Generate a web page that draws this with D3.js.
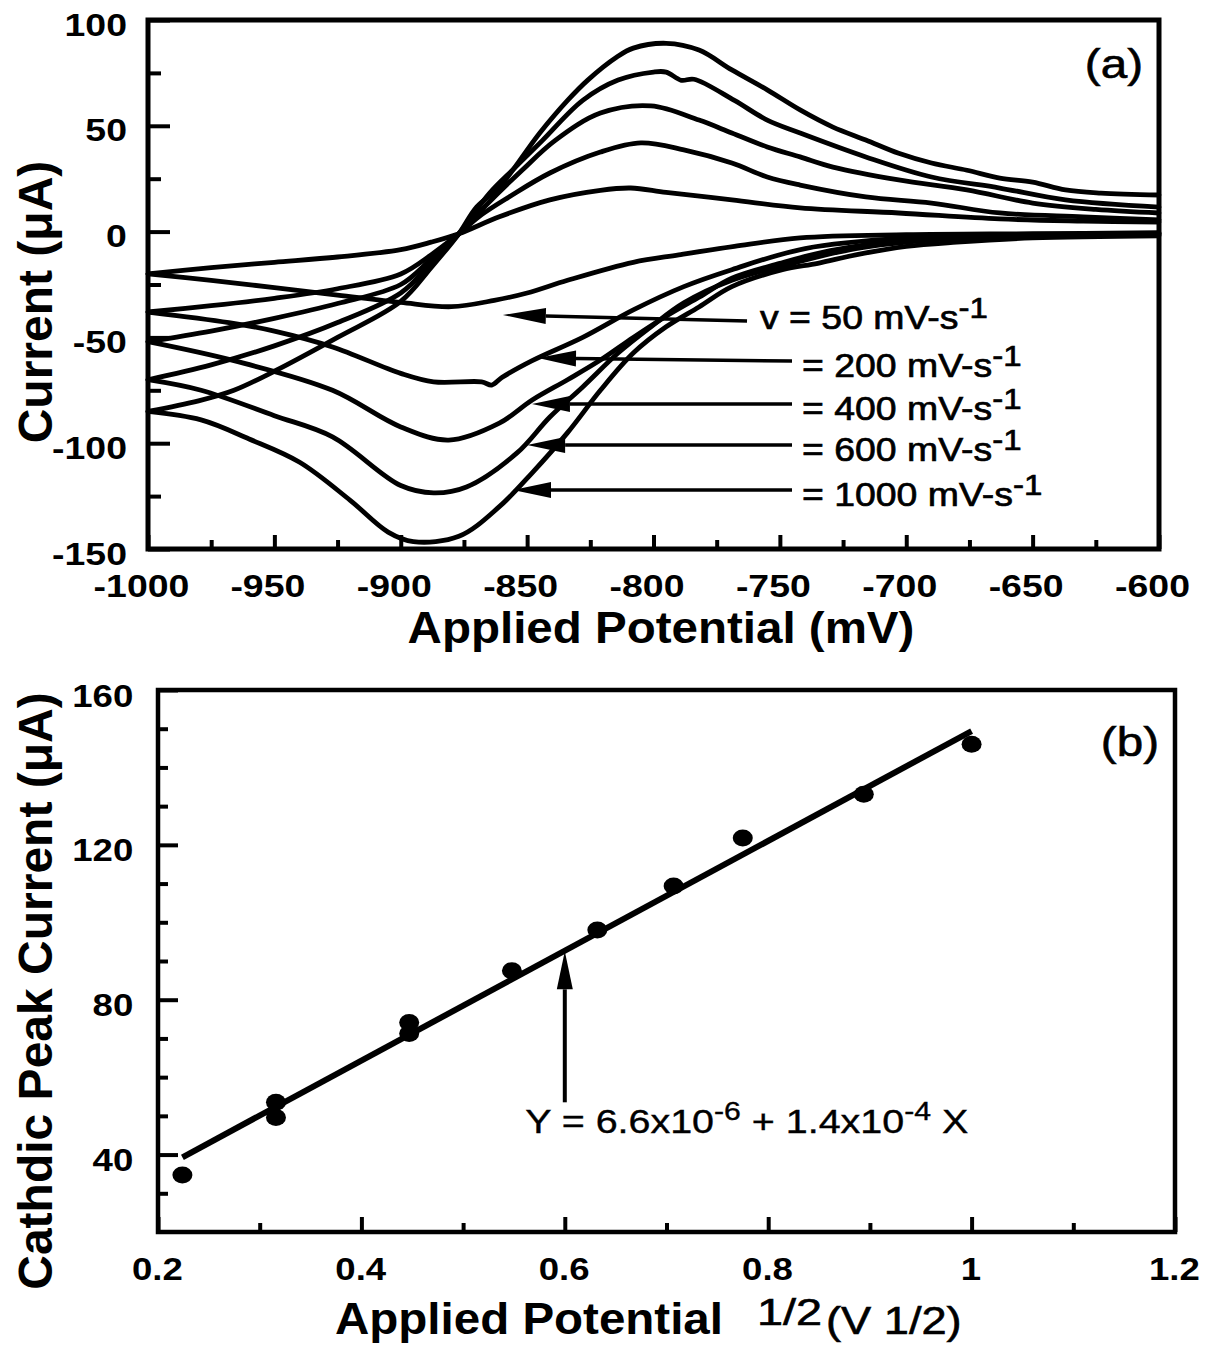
<!DOCTYPE html>
<html>
<head>
<meta charset="utf-8">
<script src="https://cdn.jsdelivr.net/npm/d3@7"></script>
<style>
  body { margin: 0; background: #fff; }
  svg { display: block; }
  text { font-family: "Liberation Sans", Arial, Helvetica, sans-serif; fill: #000; white-space: pre; }
</style>
</head>
<body>
<svg id="fig"></svg>
<script>
// (a) cyclic voltammograms, [potential mV, current uA]
// upper (anodic) branch left->right, lower (cathodic) branch right->left
const up50 = [[-1000,-20],[-975,-17],[-950,-14.5],[-925,-12],[-900,-8.5],[-888,-5],[-877,-1],[-861,7],[-841,15],[-821,19.5],[-809,20.6],[-795,18.5],[-769,15],[-742,11.2],[-703,8.8],[-663,6],[-630,5],[-600,4.5]];
const down50 = [[-600,-0.5],[-650,-1],[-700,-1.5],[-742,-3],[-768,-7],[-790,-11],[-808,-14.5],[-834,-23],[-850,-29],[-863,-32.5],[-880,-35.5],[-900,-33.5],[-925,-30],[-950,-26.5],[-975,-23],[-1000,-20]];

const up200 = [[-1000,-38],[-975,-35],[-950,-31.5],[-925,-27],[-900,-20],[-888,-11],[-877,-1],[-868,8],[-857,16.5],[-841,27.7],[-821,37.6],[-805,41.9],[-788,38.6],[-769,32.4],[-755,25.8],[-742,22],[-716,16.4],[-690,13.5],[-663,8.8],[-630,7],[-600,5.5]];
const down200 = [[-600,-1],[-650,-1.5],[-700,-3],[-740,-8],[-769,-18],[-788,-26],[-808,-37],[-828,-50],[-848,-61],[-860,-69],[-864,-72.5],[-868,-71],[-887,-71],[-900,-67],[-927,-54.5],[-950,-47],[-968,-43],[-1000,-38]];

const up400 = [[-1000,-52],[-975,-47],[-950,-41],[-925,-34],[-900,-25],[-888,-13],[-877,-1],[-865,14],[-852,29],[-839,43],[-821,56],[-801,59.4],[-782,52.7],[-769,46.6],[-755,40],[-742,35.3],[-729,30.5],[-703,24.4],[-676,19.7],[-650,13.5],[-625,10.5],[-600,8.8]];
const down400 = [[-600,-1],[-650,-2],[-700,-4],[-730,-9],[-750,-15],[-769,-22],[-782,-31],[-795,-40],[-808,-50],[-821,-60.7],[-834,-70],[-848,-79.6],[-861,-90.5],[-881,-98.5],[-900,-92.3],[-927,-75],[-966,-61],[-1000,-52]];

const up600 = [[-1000,-70],[-975,-63],[-950,-54],[-925,-43],[-900,-29],[-888,-15],[-877,-1],[-865,18],[-855,30],[-844,43],[-828,62],[-814,71.6],[-800,75.4],[-795,75.4],[-789,71.5],[-784,72],[-768,62],[-755,52.7],[-742,46.6],[-716,35.3],[-690,25.8],[-663,20.6],[-637,15],[-600,11.6]];
const down600 = [[-600,-1.5],[-650,-2.5],[-690,-4],[-720,-8],[-745,-15],[-769,-23],[-788,-33.7],[-801,-45],[-814,-57.4],[-828,-73.4],[-841,-87.6],[-854,-104.6],[-874,-120.7],[-887,-123.5],[-900,-120],[-927,-97],[-950,-87],[-979,-75],[-1000,-70]];

const up1000 = [[-1000,-85],[-980,-80],[-966,-75],[-950,-66],[-925,-50],[-900,-33],[-888,-17],[-877,-1],[-870,11.6],[-861,21],[-845,46.6],[-834,62],[-826,71.6],[-814.5,82.5],[-808,86.7],[-795,89],[-782,85.8],[-769,76.4],[-755,67],[-742,57.5],[-729,49.4],[-716,43.3],[-703,37],[-690,32.4],[-676,29],[-663,25.3],[-650,23.4],[-637,19.7],[-623,18.2],[-600,17.3]];
const down1000 = [[-600,-2],[-650,-3],[-680,-5],[-700,-7],[-720,-11],[-735,-15],[-749,-18],[-769,-26],[-782,-35.6],[-795,-45],[-808,-57.4],[-821,-75],[-834,-95],[-848,-114],[-861,-130],[-877,-144],[-895,-146.5],[-905,-142],[-920,-127],[-940,-109],[-960,-98],[-979,-89],[-1000,-85]];

// labels + arrows of (a)
const rateLabels = ['v = 50 mV-s', '= 200 mV-s', '= 400 mV-s', '= 600 mV-s', '= 1000 mV-s'];
const arrowTip = [[-859.6,-39.4],[-845.7,-59.7],[-848.1,-81.5],[-850,-100.9],[-855.6,-122.1]];
const arrowTail = [[-763,-42.2],[-745.2,-61.2],[-745.2,-81.5],[-745.2,-100.9],[-745.2,-122.1]];

// ticks of (a)
const xaMajor = [-1000,-950,-900,-850,-800,-750,-700,-650,-600];
const xaMinor = [-975,-925,-875,-825,-775,-725,-675,-625];
const yaMajor = [-150,-100,-50,0,50,100];
const yaMinor = [-125,-75,-25,25,75];

// (b) cathodic peak current vs sqrt(scan rate)
const sqrtRate = [0.224, 0.316, 0.316, 0.447, 0.447, 0.548, 0.632, 0.707, 0.775, 0.894, 1.0];
const peakCurrent = [34.7, 53.5, 49.6, 74.1, 71.3, 87.5, 98, 109.4, 121.8, 133.1, 146];
const fitLine = [[0.224, 39.3], [1.0, 149.4]];

// ticks of (b)
const xbMajor = [0.2, 0.4, 0.6, 0.8, 1, 1.2];
const xbMinor = [0.3, 0.5, 0.7, 0.9, 1.1];
const ybMajor = [40, 80, 120, 160];
const ybMinor = [30, 50, 60, 70, 90, 100, 110, 130, 140, 150];

const W = 1206, H = 1345;
const svg = d3.select('#fig').attr('width', W).attr('height', H);

// frames
const pa = {left: 148, top: 20, right: 1159, bottom: 549};
const pb = {left: 158, top: 690, right: 1175, bottom: 1232};

const xa = d3.scaleLinear().domain([-1000, -600]).range([pa.left, pa.right]);
const ya = d3.scaleLinear().domain([-150, 100]).range([pa.bottom, pa.top]);
const xb = d3.scaleLinear().domain([0.2, 1.2]).range([pb.left, pb.right]);
const yb = d3.scaleLinear().domain([20, 160]).range([pb.bottom, pb.top]);

function ticks(g, axis, len, w) {
    g.call(axis.tickSizeInner(-len).tickSizeOuter(0));
    g.select('.domain').remove();
    g.attr('font-family', null).attr('font-size', null);
    g.selectAll('.tick line').attr('stroke', '#000').attr('stroke-width', w);
    return g;
}

function arrow(g, tail, tip, head, half, w) {
    const a = Math.atan2(tip[1] - tail[1], tip[0] - tail[0]);
    const bx = tip[0] - head * Math.cos(a), by = tip[1] - head * Math.sin(a);
    g.append('line')
        .attr('x1', tail[0]).attr('y1', tail[1])
        .attr('x2', bx).attr('y2', by)
        .attr('stroke', '#000').attr('stroke-width', w);
    g.append('path')
        .attr('d', `M${tip[0]},${tip[1]}L${bx - half * Math.sin(a)},${by + half * Math.cos(a)}L${bx + half * Math.sin(a)},${by - half * Math.cos(a)}Z`)
        .attr('fill', '#000');
}

//---- panel (a)
const gA = svg.append('g');

// each branch drawn on its own (smooth), branches meet at -1000 / -600
const branches = [up50, down50, up200, down200, up400, down400, up600, down600, up1000, down1000];
const lineA = d3.line()
    .curve(d3.curveCatmullRom.alpha(0.5))
    .x(d => xa(d[0])).y(d => ya(d[1]));

gA.selectAll('path.cv')
    .data(branches)
    .join('path')
    .attr('class', 'cv')
    .attr('d', lineA)
    .attr('fill', 'none')
    .attr('stroke', '#000')
    .attr('stroke-width', 4.8)
    .attr('stroke-linejoin', 'round')
    .attr('stroke-linecap', 'round');

// minor / major ticks
ticks(gA.append('g').attr('transform', `translate(0,${pa.bottom})`),
    d3.axisBottom(xa).tickValues(xaMinor).tickFormat(''), 9, 4);
const xaAxis = ticks(gA.append('g').attr('transform', `translate(0,${pa.bottom})`),
    d3.axisBottom(xa).tickValues(xaMajor).tickFormat(d => String(d)), 14, 4);
ticks(gA.append('g').attr('transform', `translate(${pa.left},0)`),
    d3.axisLeft(ya).tickValues(yaMinor).tickFormat(''), 13, 4);
const yaAxis = ticks(gA.append('g').attr('transform', `translate(${pa.left},0)`),
    d3.axisLeft(ya).tickValues(yaMajor).tickFormat(d => String(d)), 22, 4);

xaAxis.selectAll('.tick text')
    .attr('x', -6).attr('y', 48).attr('dy', null)
    .attr('transform', 'scale(1.17,1)')
    .style('font-size', '32px').style('font-weight', 'bold');
yaAxis.selectAll('.tick text')
    .attr('x', -18).attr('y', 15).attr('dy', null)
    .attr('transform', 'scale(1.17,1)')
    .style('font-size', '32px').style('font-weight', 'bold');

gA.append('rect')
    .attr('x', pa.left).attr('y', pa.top)
    .attr('width', pa.right - pa.left).attr('height', pa.bottom - pa.top)
    .attr('fill', 'none').attr('stroke', '#000').attr('stroke-width', 5);

// arrows + scan-rate labels
rateLabels.forEach((lab, i) => {
    const tip = [xa(arrowTip[i][0]), ya(arrowTip[i][1])];
    const tail = [xa(arrowTail[i][0]), ya(arrowTail[i][1])];
    arrow(gA, tail, tip, i == 0 ? 43 : 38, 8, 3.5);
    const tx = i == 0 ? tail[0] + 13 : tail[0] + 10;
    const ty = i == 0 ? tail[1] + 8 : tail[1] + 16;
    const t = gA.append('text')
        .attr('transform', `translate(${tx},${ty}) scale(1.1,1)`)
        .style('font-size', '34px')
        .attr('stroke', '#000').attr('stroke-width', 0.7);
    t.append('tspan').text(lab);
    t.append('tspan').attr('dy', -11).style('font-size', '30px').text('-1');
});

gA.append('text')
    .attr('transform', 'translate(1143,78) scale(1.19,1)')
    .attr('text-anchor', 'end')
    .attr('stroke', '#000').attr('stroke-width', 0.6)
    .style('font-size', '40px')
    .text('(a)');

svg.append('text')
    .attr('transform', 'translate(661,643) scale(1.08,1)')
    .attr('text-anchor', 'middle')
    .style('font-size', '44px').style('font-weight', 'bold')
    .text('Applied Potential (mV)');

svg.append('text')
    .attr('transform', 'translate(52,302) rotate(-90)')
    .attr('text-anchor', 'middle')
    .style('font-size', '48px').style('font-weight', 'bold')
    .text('Current (μA)');

//---- panel (b)
const gB = svg.append('g');

ticks(gB.append('g').attr('transform', `translate(0,${pb.bottom})`),
    d3.axisBottom(xb).tickValues(xbMinor).tickFormat(''), 9, 4);
const xbAxis = ticks(gB.append('g').attr('transform', `translate(0,${pb.bottom})`),
    d3.axisBottom(xb).tickValues(xbMajor).tickFormat(d => String(d)), 15, 4);
ticks(gB.append('g').attr('transform', `translate(${pb.left},0)`),
    d3.axisLeft(yb).tickValues(ybMinor).tickFormat(''), 10, 4);
const ybAxis = ticks(gB.append('g').attr('transform', `translate(${pb.left},0)`),
    d3.axisLeft(yb).tickValues(ybMajor).tickFormat(d => String(d)), 20, 4);

xbAxis.selectAll('.tick text')
    .attr('x', -1).attr('y', 48).attr('dy', null)
    .attr('transform', 'scale(1.18,1)')
    .style('font-size', '31px').style('font-weight', 'bold');
ybAxis.selectAll('.tick text')
    .attr('x', -21).attr('y', 16).attr('dy', null)
    .attr('transform', 'scale(1.18,1)')
    .style('font-size', '31px').style('font-weight', 'bold');

gB.append('rect')
    .attr('x', pb.left).attr('y', pb.top)
    .attr('width', pb.right - pb.left).attr('height', pb.bottom - pb.top)
    .attr('fill', 'none').attr('stroke', '#000').attr('stroke-width', 4.5);

const lineB = d3.line().x(d => xb(d[0])).y(d => yb(d[1]));
gB.append('path')
    .datum(fitLine)
    .attr('d', lineB)
    .attr('stroke', '#000').attr('stroke-width', 6);

gB.selectAll('ellipse.pt')
    .data(sqrtRate)
    .join('ellipse')
    .attr('class', 'pt')
    .attr('cx', d => xb(d))
    .attr('cy', (d, i) => yb(peakCurrent[i]))
    .attr('rx', 10).attr('ry', 8.5)
    .attr('fill', '#000');

// arrow to the fit line + equation
arrow(gB, [xb(0.6), yb(53.5)], [xb(0.6), yb(92.5)], 38, 8, 4);

const eq = gB.append('text')
    .attr('transform', `translate(${xb(0.561)},${yb(45.6)}) scale(1.16,1)`)
    .attr('stroke', '#000').attr('stroke-width', 0.4)
    .style('font-size', '34px');
eq.append('tspan').text('Y = 6.6x10');
eq.append('tspan').attr('dy', -13).style('font-size', '26px').text('-6');
eq.append('tspan').attr('dy', 13).text(' + 1.4x10');
eq.append('tspan').attr('dy', -13).style('font-size', '26px').text('-4');
eq.append('tspan').attr('dy', 13).text(' X');

gB.append('text')
    .attr('transform', 'translate(1159,756) scale(1.19,1)')
    .attr('text-anchor', 'end')
    .attr('stroke', '#000').attr('stroke-width', 0.6)
    .style('font-size', '40px')
    .text('(b)');

svg.append('text')
    .attr('transform', 'translate(335,1334) scale(1.08,1)')
    .style('font-size', '44px').style('font-weight', 'bold')
    .text('Applied Potential');
svg.append('text')
    .attr('transform', 'translate(757,1325) scale(1.3,1)')
    .attr('stroke', '#000').attr('stroke-width', 0.6)
    .style('font-size', '36px')
    .text('1/2');
svg.append('text')
    .attr('transform', 'translate(826,1334) scale(1.19,1)')
    .attr('stroke', '#000').attr('stroke-width', 0.6)
    .style('font-size', '38px')
    .text('(V 1/2)');

svg.append('text')
    .attr('transform', 'translate(52,991) rotate(-90)')
    .attr('text-anchor', 'middle')
    .style('font-size', '48px').style('font-weight', 'bold')
    .text('Cathdic Peak Current (μA)');
</script>
</body>
</html>
